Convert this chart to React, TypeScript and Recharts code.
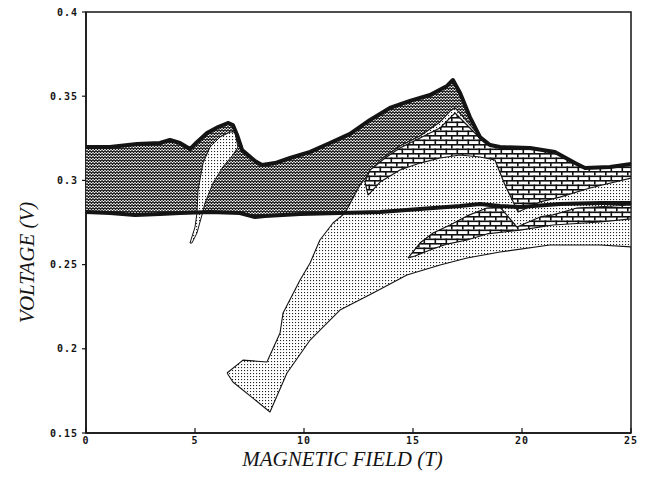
import React from 'react';
import { ComposedChart, XAxis, YAxis, Scatter, ReferenceArea } from 'recharts';

type P = [number, number];

const xTicks = [0, 5, 10, 15, 20, 25];
const yTicks = [0.15, 0.2, 0.25, 0.3, 0.35, 0.4];
const yTickLabels: Record<string, string> = {
  '0.15': '0.15', '0.2': '0.2', '0.25': '0.25', '0.3': '0.3', '0.35': '0.35', '0.4': '0.4',
};
const xTitle = 'MAGNETIC FIELD (T)';
const yTitle = 'VOLTAGE (V)';

// upper heavy boundary of the hatched band
const upperLine: P[] = [
  [0, 0.3198], [1.1, 0.3198], [2.34, 0.3216], [3.39, 0.3222], [3.85, 0.324], [4.31, 0.3222],
  [4.77, 0.3186], [5.05, 0.3222], [5.55, 0.3281], [6.06, 0.3317], [6.51, 0.3341], [6.74, 0.3329],
  [6.93, 0.327], [7.16, 0.3181], [7.75, 0.3115], [8.07, 0.3091], [8.67, 0.3103], [9.36, 0.3133],
  [10.28, 0.3169], [11.19, 0.3222], [12.11, 0.3276], [13.03, 0.3359], [13.94, 0.343], [14.86, 0.3472],
  [15.78, 0.3507], [16.56, 0.3561], [16.83, 0.3596], [17.16, 0.3519], [17.61, 0.3376], [18.07, 0.3258],
  [18.53, 0.321], [18.99, 0.3198], [20.37, 0.3192], [21.51, 0.3169], [22.43, 0.3103], [22.89, 0.3074],
  [24.04, 0.308], [25, 0.3097],
];

// lower heavy boundary of the hatched band
const lowerLine: P[] = [
  [0, 0.2812], [1.1, 0.2806], [2.25, 0.2795], [3.39, 0.28], [4.31, 0.2806], [5.69, 0.2812],
  [7.06, 0.2806], [7.75, 0.2783], [8.21, 0.2789], [9.82, 0.28], [11.65, 0.2806], [13.49, 0.2812],
  [15.32, 0.283], [17.16, 0.2848], [18.07, 0.286], [18.99, 0.2848], [19.91, 0.2842], [21.74, 0.286],
  [23.58, 0.2866], [25, 0.2866],
];

// large dotted region
const dottedRegion: P[] = [
  [6.47, 0.1856], [7.2, 0.1933], [8.3, 0.1922], [8.9, 0.2094], [9.04, 0.2213], [9.82, 0.2409],
  [10.28, 0.251], [10.73, 0.2646], [11.33, 0.2747], [11.88, 0.2806], [12.57, 0.2973], [13.49, 0.3121],
  [14.4, 0.3204], [15.32, 0.3264], [16.24, 0.3347], [16.7, 0.3412], [16.93, 0.343], [18.3, 0.3228],
  [18.99, 0.3198], [20.37, 0.3192], [21.51, 0.3169], [22.43, 0.3103], [22.89, 0.3074], [24.04, 0.308],
  [25, 0.3097], [25, 0.2605], [23.58, 0.2616], [21.28, 0.2616], [18.99, 0.2575], [17.48, 0.2539],
  [16.24, 0.2498], [14.72, 0.2438], [13.17, 0.2331], [11.65, 0.223], [10.28, 0.2052], [9.22, 0.1856],
  [8.44, 0.1625], [6.74, 0.1803],
];

// upper brick region
const brickUpper: P[] = [
  [12.94, 0.2913], [12.8, 0.299], [13.03, 0.3062], [13.72, 0.3133], [14.4, 0.3192], [15.32, 0.3252],
  [16.24, 0.3311], [16.7, 0.3371], [16.93, 0.34], [17.61, 0.3311], [18.3, 0.3222], [18.99, 0.3198],
  [20.37, 0.3192], [21.51, 0.3169], [22.43, 0.3103], [22.89, 0.3074], [24.04, 0.308], [25, 0.3097],
  [25, 0.3014], [23.12, 0.2955], [21.74, 0.2901], [20.83, 0.2872], [19.82, 0.2812], [19.22, 0.2973],
  [18.76, 0.3121], [18.07, 0.3139], [17.16, 0.3151], [16.24, 0.3133], [15.32, 0.3103], [14.4, 0.3062],
  [13.49, 0.299],
];

// lower brick region
const brickLower: P[] = [
  [14.77, 0.2539], [15.32, 0.2628], [15.92, 0.2688], [16.7, 0.2735], [17.48, 0.2789], [18.39, 0.2836],
  [18.99, 0.2842], [19.77, 0.2723], [20.83, 0.2783], [21.42, 0.2795], [22.52, 0.2836], [25, 0.2854],
  [25, 0.2771], [23.58, 0.2753], [21.42, 0.2735], [19.91, 0.2705], [18.39, 0.2682], [17.48, 0.2646],
  [16.56, 0.2622], [15.78, 0.2587], [15.09, 0.2551],
];

// thin dotted sliver near 5-7 T
const leftSliver: P[] = [
  [6.83, 0.3287], [6.97, 0.3198], [6.74, 0.3151], [6.28, 0.308], [5.83, 0.2985], [5.46, 0.2866],
  [5.32, 0.2795], [5.09, 0.2688], [4.86, 0.2628], [4.77, 0.2628], [5.0, 0.2723], [5.09, 0.2806],
  [5.14, 0.2943], [5.37, 0.3103], [5.69, 0.3198], [6.15, 0.3258], [6.61, 0.3287],
];

const toPts = (pairs: P[]) => pairs.map(([x, y]) => ({ x, y }));
const closed = (pairs: P[]) => toPts([...pairs, pairs[0]]);
const bandPolygon: P[] = [...upperLine, ...[...lowerLine].reverse()];

const noDot = () => <g />;
const INK = '#141414';
const tickFont = { fontFamily: '"DejaVu Sans Mono", monospace', fontSize: 10, fontWeight: 'bold', fill: INK, letterSpacing: 1 };
const titleFont = { fontFamily: '"Liberation Serif", "Times New Roman", serif', fontSize: 21, fontStyle: 'italic', fill: INK };

function region(key: string, pts: { x: number; y: number }[], fill: string, stroke: string, strokeWidth: number) {
  return (
    <Scatter
      key={key}
      data={pts}
      shape={noDot}
      line={{ fill, stroke, strokeWidth, strokeLinejoin: 'round' }}
      lineType="joint"
      lineJointType="linear"
      isAnimationActive={false}
    />
  );
}

export default function App() {
  return (
    <div style={{ position: 'absolute', left: 0, top: 0, background: '#fff' }}>
      <ComposedChart width={648} height={481} margin={{ top: 12, right: 17, left: 0, bottom: 0 }}>
        <defs>
          <pattern id="zigzag" patternUnits="userSpaceOnUse" width="3" height="3">
            <rect width="3" height="3" fill="#fff" />
            <path d="M0,0.4 L1.5,2.6 L3,0.4" fill="none" stroke="#111" strokeWidth="1.1" />
          </pattern>
          <pattern id="dots" patternUnits="userSpaceOnUse" width="3" height="3">
            <rect width="3" height="3" fill="#fff" />
            <rect x="1" y="1" width="1.1" height="1.1" fill="#222" />
          </pattern>
          <pattern id="brick" patternUnits="userSpaceOnUse" width="11" height="9">
            <rect width="11" height="9" fill="#fff" />
            <rect x="0" y="0" width="11" height="1.6" fill="#111" />
            <rect x="0" y="4.5" width="11" height="1.6" fill="#111" />
            <rect x="0" y="0" width="1.6" height="4.5" fill="#111" />
            <rect x="5.5" y="4.5" width="1.6" height="4.5" fill="#111" />
          </pattern>
        </defs>
        <XAxis
          type="number"
          dataKey="x"
          domain={[0, 25]}
          ticks={xTicks}
          allowDataOverflow
          height={48}
          tickSize={-5}
          tickMargin={9}
          tick={tickFont}
          axisLine={{ stroke: INK, strokeWidth: 1.5 }}
          tickLine={{ stroke: INK, strokeWidth: 1.2 }}
          label={{ value: xTitle, position: 'center', dx: -16, dy: 2, style: titleFont }}
        />
        <YAxis
          type="number"
          dataKey="y"
          domain={[0.15, 0.4]}
          ticks={yTicks}
          allowDataOverflow
          width={86}
          tickSize={4}
          tickMargin={4}
          tick={tickFont}
          tickFormatter={(v: number) => yTickLabels[String(v)] ?? String(v)}
          axisLine={{ stroke: INK, strokeWidth: 1.5 }}
          tickLine={{ stroke: INK, strokeWidth: 1.2 }}
          label={{ value: yTitle, angle: -90, position: 'center', dx: -16, dy: 40, style: titleFont }}
        />
        {region('band', closed(bandPolygon), 'url(#zigzag)', 'none', 0)}
        {region('dotted', closed(dottedRegion), 'url(#dots)', INK, 1.1)}
        {region('brickU', closed(brickUpper), 'url(#brick)', INK, 1.2)}
        {region('brickL', closed(brickLower), 'url(#brick)', INK, 1.2)}
        {region('sliver', closed(leftSliver), 'url(#dots)', INK, 1)}
        {region('upper', toPts(upperLine), 'none', INK, 4)}
        {region('lower', toPts(lowerLine), 'none', INK, 4)}
        <ReferenceArea x1={0} x2={25} y1={0.15} y2={0.4} fill="none" stroke={INK} strokeWidth={1.5} ifOverflow="visible" />
      </ComposedChart>
    </div>
  );
}
